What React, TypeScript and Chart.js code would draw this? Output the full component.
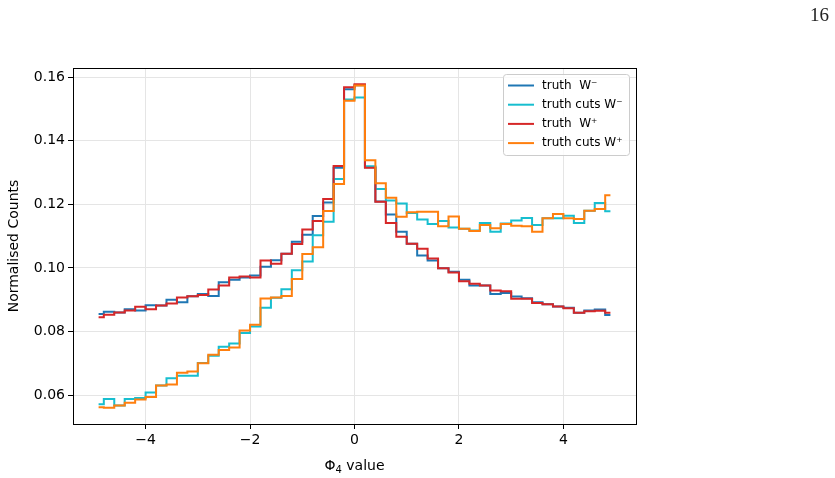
import React, { useEffect, useRef } from 'react';
import { Chart, registerables } from 'chart.js';

Chart.register(...registerables);

// Bin centres of the Φ4 histogram (bin width 0.2)
const BIN_CENTRES = [
  -4.9, -4.7, -4.5, -4.3, -4.1, -3.9, -3.7, -3.5, -3.3, -3.1,
  -2.9, -2.7, -2.5, -2.3, -2.1, -1.9, -1.7, -1.5, -1.3, -1.1,
  -0.9, -0.7, -0.5, -0.3, -0.1, 0.1, 0.3, 0.5, 0.7, 0.9,
  1.1, 1.3, 1.5, 1.7, 1.9, 2.1, 2.3, 2.5, 2.7, 2.9,
  3.1, 3.3, 3.5, 3.7, 3.9, 4.1, 4.3, 4.5, 4.7, 4.9,
];

const TRUTH_W_MINUS = [
  0.0855, 0.0862, 0.0860, 0.0870, 0.0866, 0.0883, 0.0882, 0.0900, 0.0892, 0.0911,
  0.0918, 0.0912, 0.0955, 0.0963, 0.0970, 0.0976, 0.1004, 0.1024, 0.1045, 0.1082,
  0.1104, 0.1163, 0.1206, 0.1315, 0.1562, 0.1575, 0.1317, 0.1209, 0.1168, 0.1114,
  0.1076, 0.1039, 0.1023, 0.0999, 0.0988, 0.0963, 0.0945, 0.0945, 0.0918, 0.0921,
  0.0910, 0.0905, 0.0892, 0.0886, 0.0879, 0.0875, 0.0859, 0.0866, 0.0869, 0.0852,
];

const TRUTH_CUTS_W_MINUS = [
  0.0571, 0.0588, 0.0567, 0.0588, 0.0591, 0.0608, 0.0630, 0.0653, 0.0661, 0.0661,
  0.0701, 0.0724, 0.0752, 0.0762, 0.0795, 0.0816, 0.0875, 0.0906, 0.0933, 0.0993,
  0.1020, 0.1103, 0.1145, 0.1280, 0.1530, 0.1536, 0.1320, 0.1248, 0.1212, 0.1203,
  0.1173, 0.1152, 0.1138, 0.1148, 0.1127, 0.1123, 0.1118, 0.1141, 0.1114, 0.1140,
  0.1149, 0.1157, 0.1135, 0.1156, 0.1156, 0.1164, 0.1141, 0.1180, 0.1204, 0.1178,
];

const TRUTH_W_PLUS = [
  0.0845, 0.0853, 0.0860, 0.0866, 0.0878, 0.0870, 0.0882, 0.0888, 0.0907, 0.0911,
  0.0915, 0.0932, 0.0945, 0.0970, 0.0973, 0.0970, 0.1023, 0.1013, 0.1045, 0.1075,
  0.1121, 0.1148, 0.1217, 0.1321, 0.1568, 0.1578, 0.1315, 0.1208, 0.1141, 0.1098,
  0.1076, 0.1060, 0.1030, 0.0999, 0.0986, 0.0958, 0.0950, 0.0945, 0.0929, 0.0927,
  0.0903, 0.0903, 0.0890, 0.0886, 0.0879, 0.0873, 0.0859, 0.0864, 0.0865, 0.0859,
];

const TRUTH_CUTS_W_PLUS = [
  0.0562, 0.0560, 0.0567, 0.0576, 0.0586, 0.0594, 0.0630, 0.0633, 0.0670, 0.0674,
  0.0700, 0.0727, 0.0742, 0.0750, 0.0803, 0.0821, 0.0904, 0.0907, 0.0912, 0.0965,
  0.1044, 0.1065, 0.1179, 0.1264, 0.1526, 0.1574, 0.1339, 0.1266, 0.1221, 0.1161,
  0.1175, 0.1177, 0.1177, 0.1131, 0.1162, 0.1123, 0.1116, 0.1135, 0.1125, 0.1138,
  0.1133, 0.1131, 0.1114, 0.1156, 0.1170, 0.1156, 0.1154, 0.1180, 0.1185, 0.1229,
];

const SERIES_LABELS = ['truth  W\u207B', 'truth cuts W\u207B', 'truth  W\u207A', 'truth cuts W\u207A'];
const SERIES_VALUES = [TRUTH_W_MINUS, TRUTH_CUTS_W_MINUS, TRUTH_W_PLUS, TRUTH_CUTS_W_PLUS];
const SERIES_COLORS = ['#1f77b4', '#17becf', '#d62728', '#ff7f0e'];

const X_TICKS = [-4, -2, 0, 2, 4];
const Y_TICKS = [0.06, 0.08, 0.1, 0.12, 0.14, 0.16];

const X_TITLE_SYMBOL = '\u03A6';
const X_TITLE_SUB = '4';
const X_TITLE_REST = ' value';
const Y_TITLE = 'Normalised Counts';
const PAGE_NUMBER = '16';

const FONT = '"DejaVu Sans", sans-serif';

// 5% autoscale margins around the data range
function paddedRange(values: number[]): [number, number] {
  const lo = Math.min(...values);
  const hi = Math.max(...values);
  const pad = (hi - lo) * 0.05;
  return [lo - pad, hi + pad];
}

const [X_MIN, X_MAX] = paddedRange(BIN_CENTRES);
const [Y_MIN, Y_MAX] = paddedRange(SERIES_VALUES.flat());

const formatMinus = (v: number, digits: number) => {
  const s = Math.abs(v).toFixed(digits);
  return v < 0 ? '\u2212' + s : s;
};

const decorations = {
  id: 'decorations',
  afterDraw(chart: any) {
    const { ctx, chartArea: a } = chart;
    ctx.save();

    // full frame around the plotting area
    ctx.strokeStyle = '#000';
    ctx.lineWidth = 1;
    ctx.strokeRect(Math.round(a.left) + 0.5, Math.round(a.top) + 0.5,
      Math.round(a.right - a.left), Math.round(a.bottom - a.top));

    ctx.fillStyle = '#000';

    // x-axis title: Φ with subscript 4
    const cx = (a.left + a.right) / 2;
    const baseY = 470;
    ctx.font = `14px ${FONT}`;
    const wSym = ctx.measureText(X_TITLE_SYMBOL).width;
    const wRest = ctx.measureText(X_TITLE_REST).width;
    ctx.font = `10px ${FONT}`;
    const wSub = ctx.measureText(X_TITLE_SUB).width;
    let x = cx - (wSym + wSub + wRest) / 2;
    ctx.textBaseline = 'alphabetic';
    ctx.textAlign = 'left';
    ctx.font = `14px ${FONT}`;
    ctx.fillText(X_TITLE_SYMBOL, x, baseY);
    x += wSym;
    ctx.font = `10px ${FONT}`;
    ctx.fillText(X_TITLE_SUB, x, baseY + 3);
    x += wSub;
    ctx.font = `14px ${FONT}`;
    ctx.fillText(X_TITLE_REST, x, baseY);

    // y-axis title
    ctx.save();
    ctx.translate(14, (a.top + a.bottom) / 2);
    ctx.rotate(-Math.PI / 2);
    ctx.textAlign = 'center';
    ctx.textBaseline = 'middle';
    ctx.font = `14px ${FONT}`;
    ctx.fillText(Y_TITLE, 0, 0);
    ctx.restore();

    // legend box (upper right)
    const lx = 503.5, ly = 74.5, lw = 126, lh = 81, r = 3;
    ctx.beginPath();
    ctx.moveTo(lx + r, ly);
    ctx.arcTo(lx + lw, ly, lx + lw, ly + lh, r);
    ctx.arcTo(lx + lw, ly + lh, lx, ly + lh, r);
    ctx.arcTo(lx, ly + lh, lx, ly, r);
    ctx.arcTo(lx, ly, lx + lw, ly, r);
    ctx.closePath();
    ctx.fillStyle = 'rgba(255,255,255,0.8)';
    ctx.fill();
    ctx.strokeStyle = '#cccccc';
    ctx.lineWidth = 1;
    ctx.stroke();

    ctx.font = `12px ${FONT}`;
    ctx.textAlign = 'left';
    ctx.textBaseline = 'middle';
    SERIES_LABELS.forEach((label, i) => {
      const yy = 85.5 + i * 19.2;
      ctx.strokeStyle = SERIES_COLORS[i];
      ctx.lineWidth = 2;
      ctx.beginPath();
      ctx.moveTo(508, yy);
      ctx.lineTo(534, yy);
      ctx.stroke();
      ctx.fillStyle = '#000';
      ctx.fillText(label, 542, yy);
    });

    // page number
    ctx.font = '19px "Liberation Serif", serif';
    ctx.fillStyle = '#222';
    ctx.textAlign = 'left';
    ctx.textBaseline = 'alphabetic';
    ctx.fillText(PAGE_NUMBER, 810, 21);

    ctx.restore();
  },
};

export default function App() {
  const canvasRef = useRef<HTMLCanvasElement | null>(null);

  useEffect(() => {
    const canvas = canvasRef.current;
    if (!canvas) return;

    const datasets = SERIES_VALUES.map((vals, i) => ({
      label: SERIES_LABELS[i],
      data: BIN_CENTRES.map((c, j) => ({ x: c, y: vals[j] })),
      borderColor: SERIES_COLORS[i],
      backgroundColor: SERIES_COLORS[i],
      borderWidth: 2,
      pointRadius: 0,
      stepped: 'middle' as const,
      fill: false,
      order: 3 - i,
    }));

    const chart = new Chart(canvas, {
      type: 'line',
      data: { datasets },
      options: {
        animation: false,
        responsive: false,
        maintainAspectRatio: false,
        devicePixelRatio: 1,
        layout: { padding: { left: 0, top: 68, right: 199, bottom: 0 } },
        plugins: {
          legend: { display: false },
          tooltip: { enabled: false },
        },
        scales: {
          x: {
            type: 'linear',
            min: X_MIN,
            max: X_MAX,
            afterFit: (s: any) => { s.height = 54; },
            afterBuildTicks: (s: any) => { s.ticks = X_TICKS.map((value) => ({ value })); },
            ticks: {
              color: '#000',
              font: { family: FONT, size: 14 },
              padding: 3,
              maxRotation: 0,
              autoSkip: false,
              callback: (v: any) => formatMinus(Number(v), 0),
            },
            grid: {
              color: '#e5e5e5',
              lineWidth: 1,
              tickColor: '#000',
              tickLength: 5,
              drawTicks: true,
            },
            border: { display: true, color: '#000', width: 1 },
          },
          y: {
            type: 'linear',
            min: Y_MIN,
            max: Y_MAX,
            afterFit: (s: any) => { s.width = 73; },
            afterBuildTicks: (s: any) => { s.ticks = Y_TICKS.map((value) => ({ value })); },
            ticks: {
              color: '#000',
              font: { family: FONT, size: 14 },
              padding: 3,
              autoSkip: false,
              callback: (v: any) => formatMinus(Number(v), 2),
            },
            grid: {
              color: '#e5e5e5',
              lineWidth: 1,
              tickColor: '#000',
              tickLength: 5,
              drawTicks: true,
            },
            border: { display: true, color: '#000', width: 1 },
          },
        },
      },
      plugins: [decorations],
    });

    return () => chart.destroy();
  }, []);

  return (
    <div style={{ position: 'absolute', left: 0, top: 0, width: 835, height: 478, background: '#fff' }}>
      <canvas ref={canvasRef} width={835} height={478} style={{ display: 'block', width: 835, height: 478 }} />
    </div>
  );
}
